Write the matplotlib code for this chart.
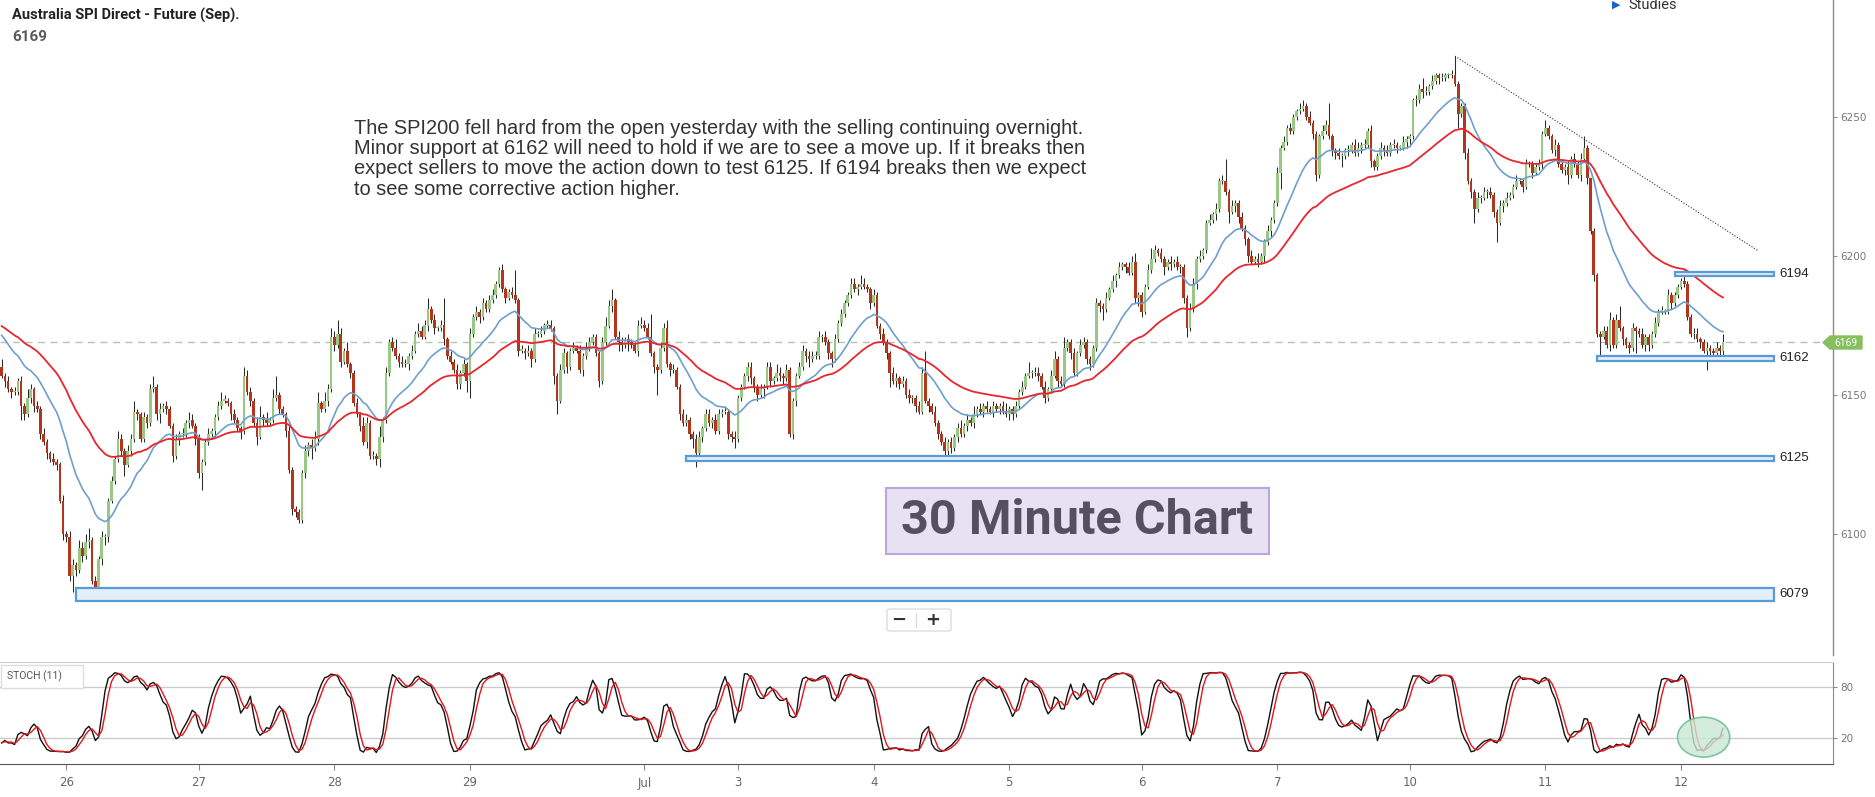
import numpy as np
import pandas as pd
import matplotlib
matplotlib.use("Agg")
import matplotlib.pyplot as plt
from matplotlib.patches import Rectangle, Ellipse, Polygon, FancyBboxPatch

# ---------------- data (30-minute bars, closes) ----------------
open_first = 6160
closes_a = [6157, 6155, 6152, 6151, 6151, 6155, 6146, 6143, 6149, 6152,
            6146, 6145, 6136, 6133, 6129, 6127, 6126, 6125, 6112, 6100,
            6099, 6085, 6089, 6087, 6095, 6092, 6097, 6098, 6083, 6080,
            6091, 6099, 6099, 6112, 6119, 6127, 6134, 6130, 6125, 6130,
            6134, 6144, 6143, 6134, 6142, 6140, 6152, 6153, 6143, 6145,
            6146, 6145, 6139, 6128, 6134, 6136, 6136, 6140, 6141, 6139,
            6134, 6122, 6126, 6133, 6136, 6137, 6142, 6146, 6148, 6148,
            6147, 6143, 6141, 6138, 6137, 6157, 6151, 6148, 6140, 6135,
            6142, 6141, 6140, 6141, 6149, 6150, 6145, 6143, 6137, 6123,
            6109, 6108, 6105, 6122, 6130, 6132, 6131, 6134, 6147, 6145,
            6148, 6152, 6171, 6168, 6172, 6162, 6166, 6161, 6158, 6147,
            6143, 6139, 6133, 6140, 6128, 6128, 6127, 6135, 6141, 6158,
            6169, 6167, 6164, 6162, 6161, 6161, 6164, 6166, 6172, 6173,
            6171, 6175, 6181, 6177, 6174, 6174, 6175, 6170, 6164, 6162,
            6159, 6154]
closes_b = [6158, 6161, 6155, 6172, 6178, 6180, 6178, 6183, 6181, 6184,
            6186, 6190, 6195, 6188, 6185, 6187, 6186, 6184, 6166, 6166,
            6165, 6166, 6163, 6172, 6172, 6173, 6175, 6175, 6174, 6157,
            6148, 6159, 6165, 6160, 6166, 6167, 6166, 6159, 6164, 6167,
            6169, 6171, 6165, 6155, 6169, 6175, 6182, 6184, 6171, 6169,
            6168, 6170, 6169, 6168, 6166, 6175, 6175, 6174, 6171, 6165,
            6160, 6159, 6167, 6174, 6161, 6159, 6159, 6153, 6143, 6140,
            6141, 6136, 6134, 6129, 6135, 6138, 6143, 6140, 6141, 6137,
            6143, 6144, 6144, 6136, 6135, 6134, 6149, 6153, 6157, 6160,
            6156, 6153, 6150, 6152, 6153, 6160, 6155, 6156, 6158, 6157,
            6156, 6159, 6136, 6148, 6157, 6160, 6166, 6164, 6163, 6164,
            6164, 6171, 6171, 6169, 6165, 6163, 6170, 6176, 6179, 6183,
            6186, 6190, 6188, 6189, 6190, 6189, 6188, 6183, 6186, 6175,
            6172, 6169, 6165, 6158, 6155, 6156, 6154, 6155, 6150, 6149,
            6149]
closes_c = [6146, 6144, 6158, 6148, 6146, 6144, 6140, 6136, 6133, 6130,
            6133, 6131, 6135, 6138, 6136, 6139, 6141, 6140, 6143, 6145,
            6144, 6146, 6145, 6144, 6146, 6145, 6146, 6144, 6143, 6145,
            6143, 6146, 6151, 6153, 6157, 6158, 6158, 6158, 6157, 6153,
            6149, 6152, 6157, 6163, 6155, 6154, 6167, 6169, 6165, 6158,
            6165, 6168, 6169, 6163, 6161, 6167, 6183, 6182, 6181, 6185,
            6188, 6191, 6193, 6196, 6197, 6196, 6194, 6198, 6185, 6186,
            6180, 6189, 6195, 6199, 6202, 6201, 6199, 6196, 6198, 6197,
            6198, 6196, 6196, 6185, 6174, 6181, 6190, 6199, 6200, 6202,
            6212, 6213, 6215, 6217, 6227, 6227, 6223, 6216, 6218, 6219,
            6214, 6210, 6206, 6200, 6198, 6199, 6198, 6200, 6205, 6209,
            6213, 6219, 6230, 6239, 6241, 6246, 6245, 6250, 6252, 6253,
            6254, 6250, 6248, 6244, 6229, 6243, 6245, 6247, 6243, 6238,
            6237, 6236, 6236, 6238, 6238, 6240, 6237]
closes_d = [6239, 6240, 6240, 6245, 6234, 6232, 6236, 6239, 6238, 6237,
            6240, 6240, 6239, 6239, 6241, 6242, 6243, 6256, 6256, 6260,
            6259, 6259, 6261, 6263, 6265, 6264, 6264, 6265, 6265, 6265,
            6262, 6251, 6254, 6237, 6227, 6223, 6217, 6221, 6221, 6223,
            6223, 6222, 6216, 6212, 6218, 6219, 6221, 6222, 6225, 6227,
            6227, 6225, 6233, 6233, 6230, 6232, 6233, 6244, 6246, 6243,
            6238, 6240, 6233, 6231, 6232, 6229, 6235, 6233, 6229, 6235,
            6239, 6228, 6209, 6193, 6172, 6171, 6173, 6168, 6177, 6168,
            6177, 6174, 6170, 6168, 6167, 6174, 6173, 6172, 6168, 6171,
            6168, 6172, 6176, 6180, 6180, 6180, 6186, 6183, 6186, 6189,
            6191, 6190, 6178, 6172, 6172, 6170, 6169, 6166, 6167, 6166,
            6165, 6167, 6166, 6169]

# upper / lower wick lengths (points beyond the body)
upper_a = [3,1,2,1,2,1,2,1,3,2, 1,2,1,2,1,1,2,1,1,2, 1,2,2,1,3,2,3,4,1,2,
           1,2,1,1,2,1,3,2,1,2, 2,4,1,1,2,1,2,4,1,2, 1,2,1,1,2,1,2,1,3,2,
           1,2,1,1,2,1,1,2,3,2, 1,1,2,1,1,3,2,2,1,2, 4,1,3,1,3,7,1,1,1,2,
           1,1,1,1,2,1,2,3,4,1, 3,2,3,2,5,2,1,3,1,1, 2,1,3,2,1,2,1,4,1,2,
           1,2,3,1,2,2,1,2,1,3, 2,2,4,1,2,1,2,10,1,2, 1,2]
lower_a = [1,2,1,2,1,1,5,2,1,2, 2,1,2,1,2,1,1,2,1,2, 2,2,6,2,1,2,1,2,1,1,
           1,2,3,2,1,1,1,2,4,1, 2,1,2,1,1,2,1,1,2,3, 1,2,1,2,1,2,1,1,2,1,
           2,2,6,1,1,1,2,1,1,1, 1,2,1,1,3,1,1,2,1,3, 1,2,1,1,1,1,2,1,2,1,
           2,2,1,1,2,2,4,1,2,1, 1,2,1,2,1,2,1,1,2,1, 1,2,1,2,1,1,2,3,2,1,
           1,1,1,2,1,1,2,1,1,1, 1,1,2,1,2,1,1,2,1,1, 1,2]
upper_b = [1,2,1,2,1,2,1,2,1,2, 2,1,1,2,1,1,2,9,1,2, 1,2,1,2,1,2,1,2,2,1,
           1,2,2,1,1,2,1,2,1,2, 2,1,1,1,2,3,2,4,1,2, 2,1,2,1,1,2,3,2,2,8,
           1,1,2,2,3,1,2,1,1,2, 2,1,1,2,2,1,2,2,1,2, 2,1,2,1,1,2,1,1,1,2,
           2,1,1,2,1,2,2,1,3,2, 1,2,1,1,1,2,2,1,2,2, 2,2,1,2,1,1,2,1,2,1,
           1,2,2,1,3,2,1,1,2,1, 1,2,1,1,2,2,1,2,1,2, 1]
lower_b = [2,1,4,6,1,1,2,1,1,1, 1,1,1,1,2,1,1,1,2,1, 2,1,3,1,1,1,1,1,1,3,
           5,1,1,2,1,1,1,1,2,1, 1,1,1,2,1,1,1,2,1,3, 2,1,3,1,1,2,1,1,1,1,
           2,9,1,1,1,2,1,1,2,1, 1,2,3,5,1,2,1,1,2,1, 1,1,1,2,2,3,1,1,1,2,
           2,2,2,1,3,1,2,1,1,2, 2,1,1,2,2,1,1,2,3,1, 1,1,2,1,2,3,1,1,1,1,
           1,1,1,2,1,1,1,2,1,1, 2,1,2,5,1,2,2,1,1,2, 2]
upper_c = [1,2,2,8,1,1,2,1,1,2, 1,2,1,2,3,1,2,1,3,1, 2,1,2,1,2,1,1,2,3,1,
           1,2,1,2,1,4,1,2,2,1, 2,1,2,3,1,2,4,1,1,2, 1,2,2,1,1,1,2,1,1,2,
           1,2,1,2,1,1,2,2,3,1, 1,1,2,4,2,1,2,1,1,2, 1,2,1,1,1,2,2,1,2,1,
           1,2,1,2,1,2,8,1,2,1, 1,2,1,1,2,1,2,1,1,2, 1,1,2,1,2,1,2,1,1,2,
           2,1,2,1,1,1,2,2,8,1, 1,2,1,1,2,1,2]
lower_c = [2,1,1,1,2,1,1,2,1,3, 3,2,1,2,1,1,2,1,2,1, 1,2,1,1,2,1,2,1,1,2,
           2,1,1,1,1,1,2,1,2,1, 2,1,1,1,2,1,1,1,2,1, 1,1,1,2,2,1,1,2,4,1,
           1,1,2,1,1,2,1,1,2,3, 2,1,1,1,1,1,1,3,1,2, 1,1,2,2,3,1,1,2,1,1,
           1,1,1,2,1,1,1,4,1,2, 2,1,2,2,1,1,2,1,2,1, 2,1,1,6,1,1,1,1,1,1,
           1,1,1,2,2,1,1,1,1,2, 2,1,4,1,2,1,1]
upper_d = [2,1,2,1,2,1,1,2,1,2, 1,2,1,1,2,1,1,1,2,2, 4,2,1,2,1,1,2,1,1,2,
           7,1,1,1,2,1,1,2,1,2, 1,2,1,1,2,1,2,1,1,2, 1,1,2,1,1,1,2,1,3,1,
           1,2,1,1,1,2,1,2,1,2, 4,1,0,1,1,1,2,2,3,1, 2,5,1,1,1,2,1,1,2,1,
           1,1,2,1,2,1,2,1,1,1, 1,4,1,1,2,2,1,1,2,1, 1,2,1,3]
lower_d = [1,2,1,1,2,1,1,1,2,1, 1,1,2,1,1,2,2,1,2,1, 2,1,1,1,1,2,1,1,1,1,
           1,5,1,2,1,2,5,1,2,1, 2,1,2,7,1,2,1,1,1,1, 1,2,1,1,2,1,1,2,1,1,
           1,2,1,1,2,3,1,1,1,2, 1,2,1,2,1,7,1,1,2,1, 1,1,2,1,2,1,8,1,1,2,
           2,1,1,1,1,1,1,2,1,1, 1,1,1,1,2,1,2,1,7,2, 1,1,3,2]

# moving-average starting values (read at the left edge)
ema_fast_start, ema_slow_start = 6173.0, 6175.5
ema_fast_n, ema_slow_n = 20, 50
stoch_n = 11

# axis labels
right_ticks = [6100, 6150, 6200, 6250]
stoch_ticks = [20, 80]
date_labels = ["26", "27", "28", "29", "Jul", "3", "4", "5", "6", "7", "10", "11", "12"]
date_bars = [20, 61, 103, 145, 199, 228, 270, 312, 353, 395, 436, 478, 520]
last_price = 6169
levels = [6194, 6162, 6125, 6079]
level_bands = [(6192.8, 6194.1), (6162.3, 6164.1), (6126.3, 6128.2), (6075.9, 6080.6)]
level_start_bars = [518, 494, 212, 23]
trend_pts = ([450, 544], [6271.9, 6201.8])

# ---------------- derived series ----------------
closes = np.array(closes_a + closes_b + closes_c + closes_d, dtype=float)
uw = np.array(upper_a + upper_b + upper_c + upper_d, dtype=float)
lw = np.array(lower_a + lower_b + lower_c + lower_d, dtype=float)
N = len(closes)
uw = uw[:N]; lw = lw[:N]
if len(uw) < N:
    uw = np.concatenate([uw, np.ones(N - len(uw))])
if len(lw) < N:
    lw = np.concatenate([lw, np.ones(N - len(lw))])
opens = np.concatenate([[open_first], closes[:-1]])
highs = np.maximum(opens, closes) + uw
lows = np.minimum(opens, closes) - lw


def ema(vals, n, start):
    a = 2.0 / (n + 1)
    out = np.empty_like(vals)
    prev = start
    for i, v in enumerate(vals):
        prev = prev + a * (v - prev)
        out[i] = prev
    return out


ema_fast = ema(closes, ema_fast_n, ema_fast_start)
ema_slow = ema(closes, ema_slow_n, ema_slow_start)

kraw = np.empty(N)
for i in range(N):
    lo = lows[max(0, i - stoch_n + 1):i + 1].min()
    hi = highs[max(0, i - stoch_n + 1):i + 1].max()
    kraw[i] = 100 * (closes[i] - lo) / (hi - lo) if hi > lo else 50
k_line = pd.Series(kraw).rolling(3, min_periods=1).mean().values
d_line = pd.Series(k_line).rolling(3, min_periods=1).mean().values

# ---------------- figure ----------------
W, H = 1875, 797
fig = plt.figure(figsize=(W / 100, H / 100), dpi=100)
fig.patch.set_facecolor("white")


def fx(px):
    return px / W


def fy(py):
    return 1 - py / H


x_first_px, x_last_px, x_right_px = 1.7, 1723.0, 1833.0
dx = (x_last_px - x_first_px) / (N - 1)
xlim = (-x_first_px / dx, (x_right_px - x_first_px) / dx)

main_top, main_bot = 0, 655
ax = fig.add_axes([0, fy(main_bot), fx(x_right_px), (main_bot - main_top) / H])
px_per_pt = 2.78
y_top_price = 6200 + (256 - main_top) / px_per_pt
y_bot_price = 6200 - (main_bot - 256) / px_per_pt
ax.set_xlim(*xlim)
ax.set_ylim(y_bot_price, y_top_price)

green, red = "#98c883", "#b3361c"
xs = np.arange(N)
up = closes >= opens
ax.vlines(xs, lows, highs, color="#2a2a2a", lw=0.75, zorder=2)
body = np.maximum(np.abs(closes - opens), 0.4)
ax.bar(xs, body, bottom=np.minimum(opens, closes), width=0.82,
       color=np.where(up, green, red), linewidth=0, zorder=3)
ax.plot(xs, ema_fast, color="#6f9fcf", lw=1.2, zorder=4)
ax.plot(xs, ema_slow, color="#e8262e", lw=1.3, zorder=4)

ax.axhline(last_price, color="#b2c7aa", lw=1, dashes=(5, 4), zorder=1)
ax.plot(trend_pts[0], trend_pts[1], color="#333333", lw=0.8,
        ls=(0, (1, 1.6)), zorder=4)

end_bar = (1774 - x_first_px) / dx
for lev, (lo, hi), sb in zip(levels, level_bands, level_start_bars):
    ax.add_patch(Rectangle((sb, lo), end_bar - sb, hi - lo, facecolor="#e3eefb",
                           edgecolor="#5b9bd5", lw=1.6, zorder=5))
    ax.text(end_bar + 1.6, (lo + hi) / 2, str(lev), fontsize=9.5, color="#222222",
            va="center", ha="left", family="Liberation Sans", zorder=6)

for s in ["top", "left", "bottom"]:
    ax.spines[s].set_visible(False)
ax.spines["right"].set_color("#8a8a8a")
ax.spines["right"].set_linewidth(1)
ax.set_xticks([])
ax.yaxis.tick_right()
ax.set_yticks(right_ticks)
ax.set_yticklabels([str(t) for t in right_ticks])
ax.tick_params(axis="y", length=3, width=0.8, color="#8a8a8a", labelsize=7.5,
               labelcolor="#777777", pad=2)

# stochastic panel
st_top, st_bot = 662, 764
ax2 = fig.add_axes([0, fy(st_bot), fx(x_right_px), (st_bot - st_top) / H])
ax2.set_xlim(*xlim)
ax2.set_ylim(-10.6, 109.4)
for lvl in stoch_ticks:
    ax2.axhline(lvl, color="#cccccc", lw=1, zorder=1)
ax2.plot(xs, k_line, color="#111111", lw=1.0, zorder=3)
ax2.plot(xs, d_line, color="#e3151d", lw=1.0, zorder=4)
ax2.spines["left"].set_visible(False)
ax2.spines["top"].set_color("#cfcfcf")
ax2.spines["bottom"].set_color("#555555")
ax2.spines["right"].set_color("#8a8a8a")
ax2.yaxis.tick_right()
ax2.set_yticks(stoch_ticks)
ax2.set_yticklabels([str(t) for t in stoch_ticks])
ax2.tick_params(axis="y", length=3, color="#8a8a8a", labelsize=7.5,
                labelcolor="#777777", pad=2)
ax2.set_xticks(date_bars)
ax2.set_xticklabels(date_labels)
ax2.tick_params(axis="x", length=4, color="#888888", labelsize=8.5,
                labelcolor="#666666", pad=5)
ax2.add_patch(Ellipse((527, 21), 16.2, 47, facecolor="#c9e8d4", alpha=0.8,
                      edgecolor="#63b98c", lw=1.2, zorder=5))

# ---------------- texts and widgets ----------------
fig.text(fx(12), fy(15), "Australia SPI Direct - Future (Sep).", fontsize=10.5,
         fontweight="bold", color="#222222", va="center",
         family=["Liberation Sans Narrow", "Roboto"])
fig.text(fx(12), fy(37), "6169", fontsize=11, fontweight="bold", color="#5a5a5a",
         va="center", family="Roboto")

fig.text(fx(1612), fy(5), "\u25B6", fontsize=8, color="#1f5fc8", va="center")
fig.text(fx(1628), fy(5), "Studies", fontsize=10.5, color="#333333", va="center",
         family="Roboto")

para = ("The SPI200 fell hard from the open yesterday with the selling continuing overnight.\n"
        "Minor support at 6162 will need to hold if we are to see a move up. If it breaks then\n"
        "expect sellers to move the action down to test 6125. If 6194 breaks then we expect\n"
        "to see some corrective action higher.")
fig.text(fx(354), fy(119), para, fontsize=14.4, color="#333333", va="top", ha="left",
         linespacing=1.08, family="Liberation Sans")

fig.patches.append(FancyBboxPatch((fx(886), fy(554)), fx(1269) - fx(886), fy(488) - fy(554),
                                  boxstyle="square,pad=0", transform=fig.transFigure,
                                  facecolor="#e8e1f3", edgecolor="#b9a9da", lw=1.5))
fig.text(fx(1077), fy(521), "30 Minute Chart", fontsize=35, fontweight="bold",
         color="#55505f", ha="center", va="center", family="Roboto")

fig.patches.append(FancyBboxPatch((fx(887), fy(631)), fx(951) - fx(887), fy(609) - fy(631),
                                  boxstyle="round,pad=0,rounding_size=0.002",
                                  transform=fig.transFigure, facecolor="white",
                                  edgecolor="#dddddd", lw=1))
fig.text(fx(899), fy(620), "\u2212", fontsize=13, fontweight="bold", color="#333333",
         ha="center", va="center")
fig.text(fx(933), fy(620), "+", fontsize=13, fontweight="bold", color="#333333",
         ha="center", va="center")
fig.lines.append(plt.Line2D([fx(916), fx(916)], [fy(613), fy(627)],
                            transform=fig.transFigure, color="#dddddd", lw=1))

# last price tag
tag = Polygon([(fx(1823), fy(342.5)), (fx(1830), fy(336)), (fx(1862), fy(336)),
               (fx(1862), fy(349)), (fx(1830), fy(349))], closed=True,
              transform=fig.transFigure, facecolor="#86bf5e", edgecolor="#86bf5e")
fig.patches.append(tag)
fig.text(fx(1846), fy(342.5), str(last_price), fontsize=7.5, color="white",
         ha="center", va="center", family="Roboto")

# STOCH label box
fig.patches.append(FancyBboxPatch((fx(1), fy(688)), fx(83) - fx(1), fy(665) - fy(688),
                                  boxstyle="square,pad=0", transform=fig.transFigure,
                                  facecolor="white", edgecolor="#dddddd", lw=1, zorder=10))
fig.text(fx(7), fy(676.5), "STOCH (11)", fontsize=7.5, color="#555555", va="center",
         family="Roboto", zorder=11)

fig.savefig("out.png", dpi=100, facecolor="white")
